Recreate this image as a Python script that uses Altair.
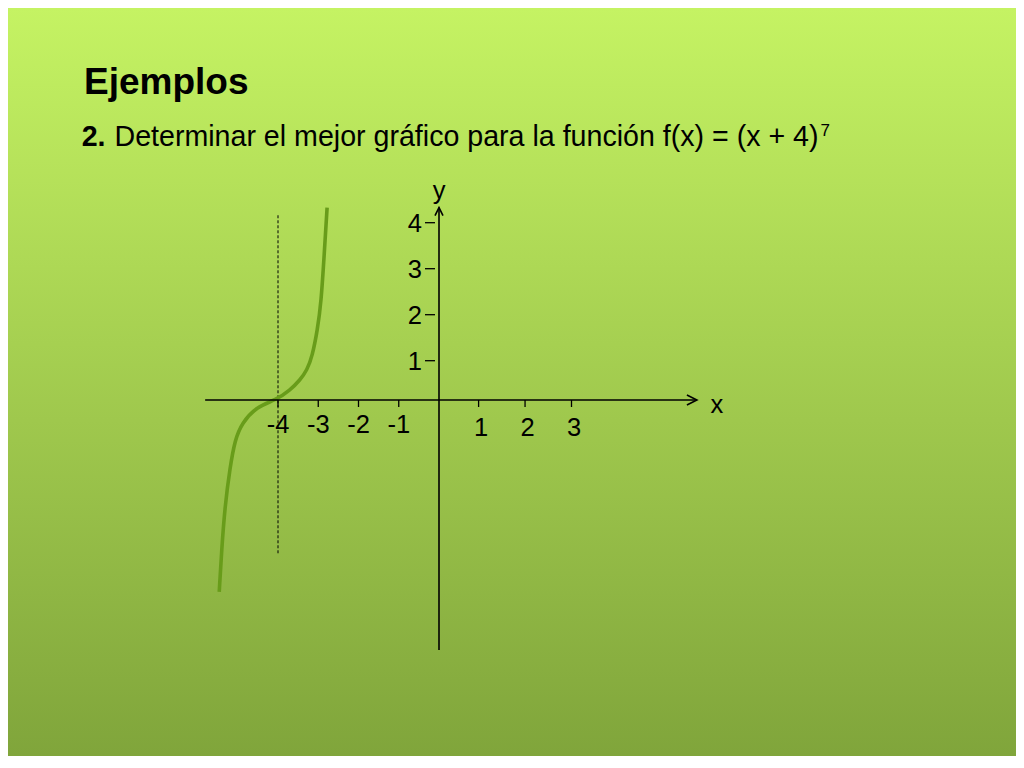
import altair as alt
import pandas as pd

# ---- values ----
curve_x = [-5.46, -5.40, -5.32, -5.19, -5.07, -4.90, -4.53, -4.05, -3.70, -3.45, -3.28, -3.15, -3.02, -2.93, -2.85, -2.78]
curve_y = [-4.88, -3.82, -2.72, -1.70, -1.02, -0.59, -0.17, 0.00, 0.25, 0.51, 0.76, 1.09, 1.67, 2.25, 3.33, 4.33]

x_ticks_neg = [-4, -3, -2, -1]
x_ticks_pos = [1, 2, 3]
y_ticks = [1, 2, 3, 4]

x_axis_ends = [-5.81, 5.70]
y_axis_ends = [-6.36, 4.33]
asymptote_x = [-4]
asymptote_ends = [-3.90, 4.18]

title_text = "Ejemplos"
subtitle_num = "2."
subtitle_text = "Determinar el mejor gráfico para la función f(x) = (x + 4)"
subtitle_sup = "7"
x_name = "x"
y_name = "y"

# ---- layout ----
W, H = 1008, 748
FONT = "Liberation Sans"

xs = alt.Scale(domain=[-4, 0, 1, 3], range=[270, 431, 470.6, 563.5], nice=False, zero=False)
ys = alt.Scale(domain=[0, 1, 4], range=[392, 352.7, 214.7], nice=False, zero=False)


def X(f):
    return alt.X(f, type="quantitative", scale=xs, axis=None)


def Y(f):
    return alt.Y(f, type="quantitative", scale=ys, axis=None)


def XD(v):
    return alt.XDatum(v, scale=xs, axis=None)


def YD(v):
    return alt.YDatum(v, scale=ys, axis=None)


one = pd.DataFrame({"a": [0]})

bg = alt.Chart(one).mark_rect(
    color=alt.Gradient(
        gradient="linear",
        stops=[alt.GradientStop(color="#c5f363", offset=0),
               alt.GradientStop(color="#80a53b", offset=1)],
        x1=0, x2=0, y1=0, y2=1,
    )
).encode(x=alt.value(0), x2=alt.value(W), y=alt.value(0), y2=alt.value(H))

curve_df = pd.DataFrame({"x": curve_x, "y": curve_y, "i": list(range(len(curve_x)))})
curve = alt.Chart(curve_df).mark_line(
    color="#689c1a", strokeWidth=3.6, interpolate="basis"
).encode(x=X("x"), y=Y("y"), order="i:Q")

asym = alt.Chart(pd.DataFrame({"x": asymptote_x, "y": [asymptote_ends[0]], "y2": [asymptote_ends[1]]})).mark_rule(
    color="black", strokeWidth=1, strokeDash=[3, 2]
).encode(x=X("x"), y=Y("y"), y2="y2:Q")

xaxis = alt.Chart(pd.DataFrame({"x": [x_axis_ends[0]], "x2": [x_axis_ends[1]]})).mark_rule(
    color="black", strokeWidth=1.6
).encode(x=X("x"), x2="x2:Q", y=YD(0))

yaxis = alt.Chart(pd.DataFrame({"y": [y_axis_ends[0]], "y2": [y_axis_ends[1]]})).mark_rule(
    color="black", strokeWidth=1.6
).encode(y=Y("y"), y2="y2:Q", x=XD(0))

arrow_x = alt.Chart(pd.DataFrame({"x": [x_axis_ends[1]], "y": [0]})).mark_point(
    shape="M-1,-0.5L0,0L-1,0.5", size=400, filled=False, color="black", strokeWidth=1.6, opacity=1
).encode(x=X("x"), y=Y("y"))

arrow_y = alt.Chart(pd.DataFrame({"x": [0], "y": [y_axis_ends[1]]})).mark_point(
    shape="M-0.5,1L0,0L0.5,1", size=256, filled=False, color="black", strokeWidth=1.6, opacity=1
).encode(x=X("x"), y=Y("y"))

xt_df = pd.DataFrame({"x": x_ticks_neg + x_ticks_pos})
xticks = alt.Chart(xt_df).mark_rule(color="black", strokeWidth=1.3, y2Offset=7).encode(
    x=X("x"), y=YD(0), y2=alt.Y2Datum(0)
)

yt_df = pd.DataFrame({"y": y_ticks})
yticks = alt.Chart(yt_df).mark_rule(color="black", strokeWidth=1.3, xOffset=-14, x2Offset=-4).encode(
    y=Y("y"), x=XD(0), x2=alt.X2Datum(0)
)

neg_df = pd.DataFrame({"x": x_ticks_neg, "label": [str(v) for v in x_ticks_neg]})
neg_labels = alt.Chart(neg_df).mark_text(
    font=FONT, fontSize=25.5, color="black", align="center", baseline="alphabetic", dy=33
).encode(x=X("x"), y=YD(0), text="label:N")

pos_df = pd.DataFrame({"x": x_ticks_pos, "label": [str(v) for v in x_ticks_pos]})
pos_labels = alt.Chart(pos_df).mark_text(
    font=FONT, fontSize=25.5, color="black", align="center", baseline="alphabetic", dy=36, dx=2.5
).encode(x=X("x"), y=YD(0), text="label:N")

yl_df = pd.DataFrame({"y": y_ticks, "label": [str(v) for v in y_ticks]})
y_labels = alt.Chart(yl_df).mark_text(
    font=FONT, fontSize=25.5, color="black", align="right", baseline="middle", dx=-17, dy=1.5
).encode(y=Y("y"), x=XD(0), text="label:N")

yname = alt.Chart(pd.DataFrame({"x": [0], "y": [y_axis_ends[1]], "t": [y_name]})).mark_text(
    font=FONT, fontSize=25.5, color="black", align="center", baseline="alphabetic", dy=-9
).encode(x=X("x"), y=Y("y"), text="t:N")

xname = alt.Chart(pd.DataFrame({"x": [x_axis_ends[1]], "y": [0], "t": [x_name]})).mark_text(
    font=FONT, fontSize=25.5, color="black", align="center", baseline="alphabetic", dx=20, dy=12.7
).encode(x=X("x"), y=Y("y"), text="t:N")

title = alt.Chart(pd.DataFrame({"t": [title_text]})).mark_text(
    font=FONT, fontSize=37, fontWeight="bold", color="black", align="left", baseline="alphabetic"
).encode(x=alt.value(76), y=alt.value(85.5), text="t:N")

sub_num = alt.Chart(pd.DataFrame({"t": [subtitle_num]})).mark_text(
    font=FONT, fontSize=28.6, fontWeight="bold", color="black", align="left", baseline="alphabetic"
).encode(x=alt.value(73.7), y=alt.value(138), text="t:N")

sub_txt = alt.Chart(pd.DataFrame({"t": [subtitle_text]})).mark_text(
    font=FONT, fontSize=28.6, color="black", align="left", baseline="alphabetic"
).encode(x=alt.value(106.5), y=alt.value(138), text="t:N")

sub_sup = alt.Chart(pd.DataFrame({"t": [subtitle_sup]})).mark_text(
    font=FONT, fontSize=17, color="black", align="left", baseline="alphabetic"
).encode(x=alt.value(812.5), y=alt.value(127.5), text="t:N")

chart = alt.layer(
    bg, asym, curve, xaxis, yaxis, arrow_x, arrow_y, xticks, yticks,
    neg_labels, pos_labels, y_labels, yname, xname, title, sub_num, sub_txt, sub_sup,
).properties(
    width=W, height=H, padding=0, autosize=alt.AutoSizeParams(type="none")
).configure_view(stroke=None)

chart.save("out.html", embed_options={"renderer": "svg", "actions": False})
